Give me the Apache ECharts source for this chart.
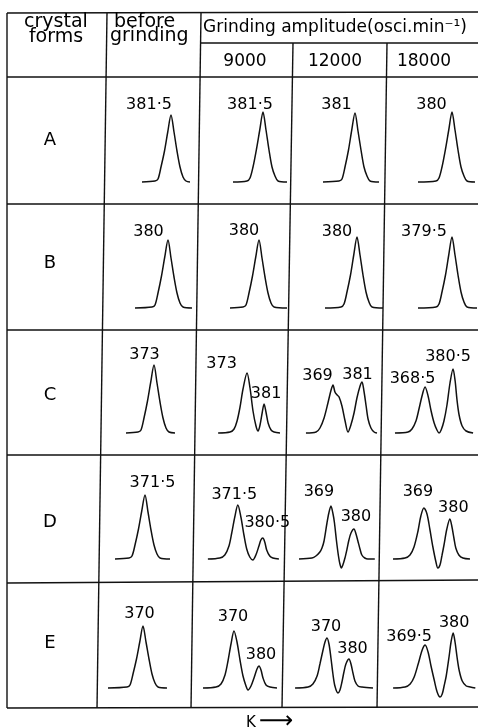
<!DOCTYPE html>
<html><head><meta charset="utf-8">
<script src="https://cdn.jsdelivr.net/npm/echarts@6/dist/echarts.min.js"></script>
<style>html,body{margin:0;padding:0;background:#fff}#c{width:478px;height:728px}</style>
</head><body><div id="c"></div>
<script>
// ---------- DATA ----------
const forms = ['A', 'B', 'C', 'D', 'E'];
const amplitudes = ['9000', '12000', '18000'];
const headerForms = ['crystal', 'forms'];
const headerBefore = ['before', 'grinding'];
const headerAmplitude = 'Grinding amplitude(osci.min\u207B\u00B9)';
const axisName = 'K';
const axisArrow = '\u27F6';

// peak positions (K) per cell: [before grinding, 9000, 12000, 18000]
const peaksA = [[381.5], [381.5], [381], [380]];
const peaksB = [[380], [380], [380], [379.5]];
const peaksC = [[373], [373, 381], [369, 381], [368.5, 380.5]];
const peaksD = [[371.5], [371.5, 380.5], [369, 380], [369, 380]];
const peaksE = [[370], [370, 380], [370, 380], [369.5, 380]];

// traces: [K, intensity]
const traceA = [
  [[369.9,0],[375.1,1],[376.3,3],[377.5,15],[378.9,31],[380.2,50],[381.5,67],[382.7,50],[383.9,31],[385.1,15],[386.3,5],[387.5,1],[389.1,0]],
  [[369.5,0],[375.1,1],[376.3,4],[377.5,15],[378.9,33],[380.2,52],[381.5,70],[382.7,52],[383.9,32],[385.1,15],[386.3,6],[387.5,1],[391.1,0]],
  [[368.2,0],[374.6,1],[375.8,3],[377,15],[378.4,32],[379.7,52],[381,69],[382.2,51],[383.4,32],[384.6,15],[385.8,6],[387,1],[390.6,0]],
  [[366.4,0],[373.6,1],[374.8,4],[376,15],[377.4,33],[378.7,52],[380,70],[381.2,52],[382.4,32],[383.6,15],[384.8,6],[386,1],[389.2,0]]
];
const traceB = [
  [[366.8,0],[373.6,1],[374.8,3],[376,15],[377.4,32],[378.7,51],[380,68],[381.2,50],[382.4,31],[383.6,15],[384.8,5],[386,1],[389.6,0]],
  [[368.4,0],[373.6,1],[374.8,3],[376,15],[377.4,32],[378.7,51],[380,68],[381.2,50],[382.4,31],[383.6,15],[384.8,5],[386,1],[391.2,0]],
  [[367.2,0],[373.6,1],[374.8,4],[376,16],[377.4,33],[378.7,53],[380,71],[381.2,53],[382.4,33],[383.6,16],[384.8,6],[386,1],[390.4,0]],
  [[365.9,0],[373.1,1],[374.3,4],[375.5,16],[376.9,33],[378.2,53],[379.5,71],[380.7,53],[381.9,33],[383.1,16],[384.3,6],[385.5,1],[389.5,0]]
];
const traceC = [
  [[361.8,0],[366.6,1],[367.8,3],[369,15],[370.4,32],[371.7,51],[373,68],[374.2,50],[375.4,31],[376.6,15],[377.8,5],[379,1],[381.4,0]],
  [[359.4,0],[365,1],[366.9,4],[368.3,12],[369.7,26],[371.1,44],[373,60],[374.4,45],[375.8,22],[377.2,7],[378.2,2],[379.1,8],[380.1,20],[381,29],[381.9,21],[382.9,10],[384.3,3],[385.7,1],[388.5,0]],
  [[357.8,0],[362,1],[363.6,5],[365.3,15],[366.9,30],[368.2,43],[369,48],[369.8,41],[370.7,38],[371.5,36],[372.7,27],[374,12],[375.2,1],[376.4,8],[377.7,20],[378.9,35],[380.2,47],[381,51],[381.8,42],[382.7,27],[383.5,14],[384.7,5],[386,1],[387.2,0]],
  [[355.6,0],[361.2,1],[362.9,4],[364.6,12],[365.9,24],[367.2,37],[368.5,46],[369.8,37],[371.1,22],[372.4,10],[373.6,3],[374.5,0],[375.4,3],[376.6,12],[377.9,28],[379.2,50],[380.5,64],[381.4,52],[382.2,33],[383.1,18],[384.4,7],[386.1,2],[389.1,0]]
];
const traceD = [
  [[359.5,0],[365.1,1],[366.3,3],[367.5,14],[368.9,30],[370.2,48],[371.5,64],[372.7,47],[373.9,29],[375.1,14],[376.3,5],[377.5,1],[381.5,0]],
  [[360.7,0],[365,1],[366.8,4],[368.3,13],[369.3,26],[370.4,42],[371.5,54],[372.6,42],[373.7,24],[374.7,10],[375.8,2],[376.9,-1],[378,4],[379.1,13],[379.8,19],[380.5,21],[381.2,17],[381.9,9],[383,3],[384.1,1],[386.3,0]],
  [[353.7,0],[359.9,1],[361.8,3],[363.7,7],[364.7,11],[365.7,18],[367.1,36],[368,46],[369,53],[370,45],[370.7,36],[371.6,19],[372.6,3],[373.3,-5],[374,-9],[374.7,-6],[375.7,1],[376.7,10],[377.6,19],[378.6,26],[380,30],[381,25],[381.9,18],[382.9,10],[383.8,4],[385.2,1],[386.7,0],[390,0]],
  [[355.9,0],[361,1],[363.1,4],[364.8,12],[366.5,28],[367.7,43],[369,51],[370.3,45],[371.5,30],[372.8,12],[374.1,-3],[374.9,-9],[375.8,-6],[376.6,3],[377.5,14],[378.7,30],[380,40],[380.8,33],[381.7,21],[382.5,11],[383.8,4],[385.5,1],[388.5,0]]
];
const traceE = [
  [[356,0],[363.6,1],[364.8,3],[366,14],[367.4,29],[368.7,46],[370,62],[371.2,46],[372.4,29],[373.6,14],[374.8,5],[376,1],[379.6,0]],
  [[357.6,0],[362.8,1],[364.8,4],[366.4,13],[367.6,27],[368.8,44],[370,57],[371.2,46],[372.4,28],[373.6,12],[374.8,2],[375.6,-2],[376.8,2],[378,10],[379.2,19],[380,22],[380.8,18],[381.6,10],[382.8,3],[384.4,1],[387.2,0]],
  [[355.5,0],[361.4,1],[363.6,4],[365.5,12],[366.8,24],[368.2,38],[369.1,46],[370,50],[370.9,44],[371.8,30],[372.7,14],[373.6,2],[375,-5],[375.9,-2],[376.8,6],[377.7,16],[378.6,24],[380,29],[380.9,24],[381.8,15],[382.7,7],[384.1,2],[385.9,1],[390.9,0]],
  [[357.5,0],[362,1],[363.9,4],[365.4,11],[366.9,24],[368.4,38],[369.5,43],[370.6,36],[371.7,22],[372.9,8],[374,-4],[375.1,-9],[375.9,-6],[376.6,2],[377.4,12],[378.5,32],[379.2,46],[380,55],[380.7,46],[381.5,30],[382.3,17],[383.4,7],[384.9,2],[386.4,1],[388.3,0]]
];

// ---------- LAYOUT (positions / sizes) ----------
const colLeft = [106, 199, 290, 384];
const colWidth = [93, 91, 94, 94];
const rowTop = [77, 204, 330, 455, 581];
const rowHeight = [127, 126, 125, 126, 127];
const rowBase = [182, 308, 433, 559, 688];
const xRanges = [
  [[355.5,392.7],[355.9,392.3],[355,392.6],[352.8,390.4]],
  [[355.2,392.4],[356,392.4],[353.2,390.8],[352.3,389.9]],
  [[353.8,391.0],[350.4,393.2],[351.2,390.1],[350.9,391.2]],
  [[355.9,393.1],[357.5,390.3],[349.4,394.4],[352.1,391.9]],
  [[355.2,392.4],[356,392.4],[353.2,395.9],[354.1,389.3]]
];
const labelOffsets = [
  [[[-22,-10]],[[-13,-7]],[[-18.5,-8]],[[-20.5,-7]]],
  [[[-19.5,-8]],[[-15,-9]],[[-20,-5]],[[-28,-5]]],
  [[[-9.5,-10]],[[-25.5,-9],[2,-10]],[[-15.5,-9],[-4.5,-7]],[[-12.5,-8],[-5,-12]]],
  [[[7.5,-12]],[[-3.5,-10],[4.5,-15]],[[-12,-14],[2,-12]],[[-6,-16],[3.5,-11]]],
  [[[-3.5,-12]],[[-1,-14],[2,-11]],[[-1,-11],[3.5,-10]],[[-16,-8],[1,-10]]]
];
const rowLabelY = [140, 263, 395, 522, 643];
const ampX = [245, 335, 424];

const traces = [traceA, traceB, traceC, traceD, traceE];
const peaks = [peaksA, peaksB, peaksC, peaksD, peaksE];

const INK = '#000000';
const FONT = '"DejaVu Sans", sans-serif';
const fmt = v => String(v).replace('.', '\u00B7');
const heightAt = (trace, k) => { const p = trace.find(d => d[0] === k); return p ? p[1] : 0; };

const grid = [], xAxis = [], yAxis = [], series = [];
forms.forEach((f, r) => {
  for (let c = 0; c < 4; c++) {
    const idx = grid.length;
    const top = rowTop[r], h = rowHeight[r], base = rowBase[r];
    grid.push({ left: colLeft[c], top: top, width: colWidth[c], height: h, show: false });
    xAxis.push({ type: 'value', gridIndex: idx, min: xRanges[r][c][0], max: xRanges[r][c][1], show: false });
    yAxis.push({ type: 'value', gridIndex: idx, min: -(top + h - base), max: base - top, show: false });
    const tr = traces[r][c];
    series.push({
      type: 'line', xAxisIndex: idx, yAxisIndex: idx, data: tr,
      smooth: 0.3, symbol: 'none', silent: true, clip: false,
      lineStyle: { color: '#111', width: 1.5 }
    });
    series.push({
      type: 'scatter', xAxisIndex: idx, yAxisIndex: idx, silent: true, clip: false,
      symbolSize: 1, itemStyle: { color: 'rgba(0,0,0,0)', opacity: 1 },
      data: peaks[r][c].map((k, i) => ({ value: [k, heightAt(tr, k)], label: { offset: labelOffsets[r][c][i] } })),
      label: {
        show: true, position: 'inside', color: INK, opacity: 1, fontFamily: FONT, fontSize: 16,
        formatter: p => fmt(p.value[0])
      }
    });
  }
});

// table frame (scan is slightly skewed)
const frameLines = [
  [7,13,478,12], [200,43,478,43], [7,77,478,77], [7,204,478,204], [7,330,478,330],
  [7,455,478,455], [7,583,478,580], [7,708,478,707],
  [7,13,7,708], [107,13,97,708], [201,13,191,708], [293,43,282,708], [387,43,377,708]
];
const graphic = [];
frameLines.forEach(l => graphic.push({
  type: 'line', silent: true, shape: { x1: l[0], y1: l[1], x2: l[2], y2: l[3] },
  style: { stroke: '#111', lineWidth: 1.4 }
}));
function txt(s, x, y, size, align) {
  graphic.push({ type: 'text', silent: true, x: x, y: y,
    style: { text: s, font: size + 'px ' + FONT, fill: INK, align: align || 'center', verticalAlign: 'middle' } });
}
txt(headerForms[0], 56, 22, 19);
txt(headerForms[1], 56, 37, 19);
txt(headerBefore[0], 114, 22, 19, 'left');
txt(headerBefore[1], 110, 36, 19, 'left');
txt(headerAmplitude, 203, 28, 17, 'left');
amplitudes.forEach((a, i) => txt(a, ampX[i], 62, 17));
forms.forEach((f, i) => txt(f, 50, rowLabelY[i], 18));
txt(axisName, 246, 723, 15, 'left');
txt(axisArrow, 259, 722, 24, 'left');

const chart = echarts.init(document.getElementById('c'), null, { renderer: 'canvas' });
chart.setOption({
  backgroundColor: '#ffffff',
  animation: false,
  grid, xAxis, yAxis, series, graphic
});
</script></body></html>
